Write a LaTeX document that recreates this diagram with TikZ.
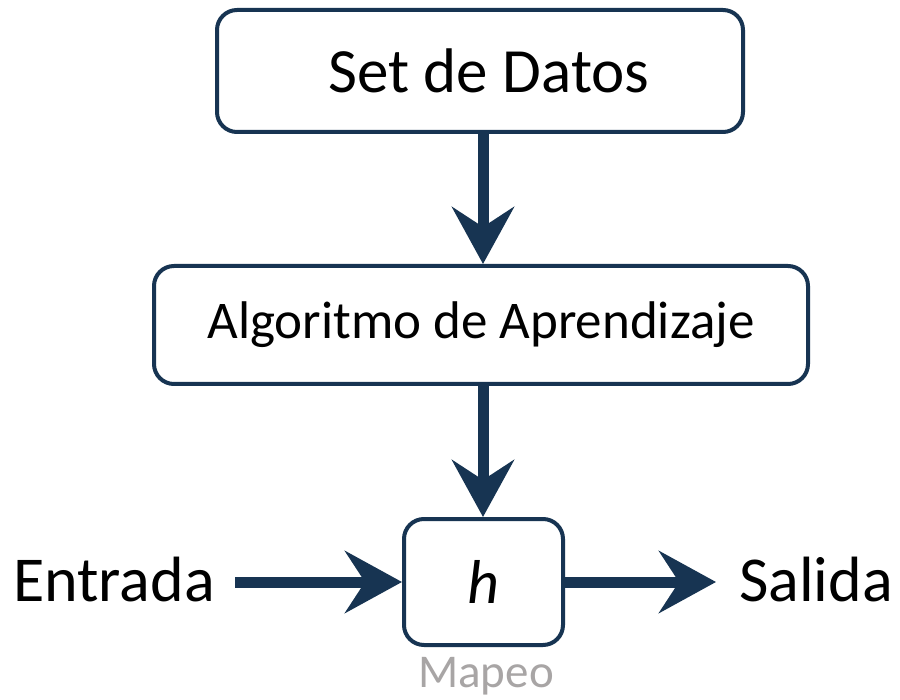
\documentclass[tikz,border=0pt]{standalone}
\usepackage{fontspec}
\setmainfont{Carlito}
\usetikzlibrary{arrows.meta}
\definecolor{navy}{RGB}{23,52,82}
\definecolor{mapgray}{RGB}{168,165,165}
\tikzset{
  box/.style={draw=navy, line width=4pt, rounded corners=20pt, fill=white, inner sep=0pt},
  arr/.style={draw=navy, line width=11pt, -{Stealth[length=57pt, width=62pt, inset=20pt]}},
  big/.style={font=\fontsize{63}{70}\selectfont},
  side/.style={font=\fontsize{64}{72}\selectfont},
  mid/.style={font=\fontsize{53}{60}\selectfont},
}
\begin{document}
\begin{tikzpicture}[x=1pt,y=-1pt]
\useasboundingbox[fill=white] (0,0) rectangle (900,700);
\node[box, big, minimum width=526pt, minimum height=122pt] (sd) at (480,71) {\hspace*{18pt}Set de Datos};
\node[box, mid, minimum width=654pt, minimum height=118pt] (alg) at (481,325) {Algoritmo de Aprendizaje};
\node[box, font=\fontsize{62}{70}\selectfont, minimum width=159pt, minimum height=126pt] (h) at (483.5,582) {\itshape h};
\node[font=\fontsize{47}{52}\selectfont, text=mapgray] (map) at (486,676) {Mapeo};
\node[side] (ent) at (114,580) {Entrada};
\node[side] (sal) at (816,580) {Salida};
\draw[arr] (sd.south -| 483,0) -- (alg.north -| 483,0);
\draw[arr] (alg.south -| 483,0) -- (h.north -| 483,0);
\draw[arr] (235,0 |- h.west) -- (h.west);
\draw[arr] (h.east) -- (716,0 |- h.east);
\end{tikzpicture}
\end{document}
